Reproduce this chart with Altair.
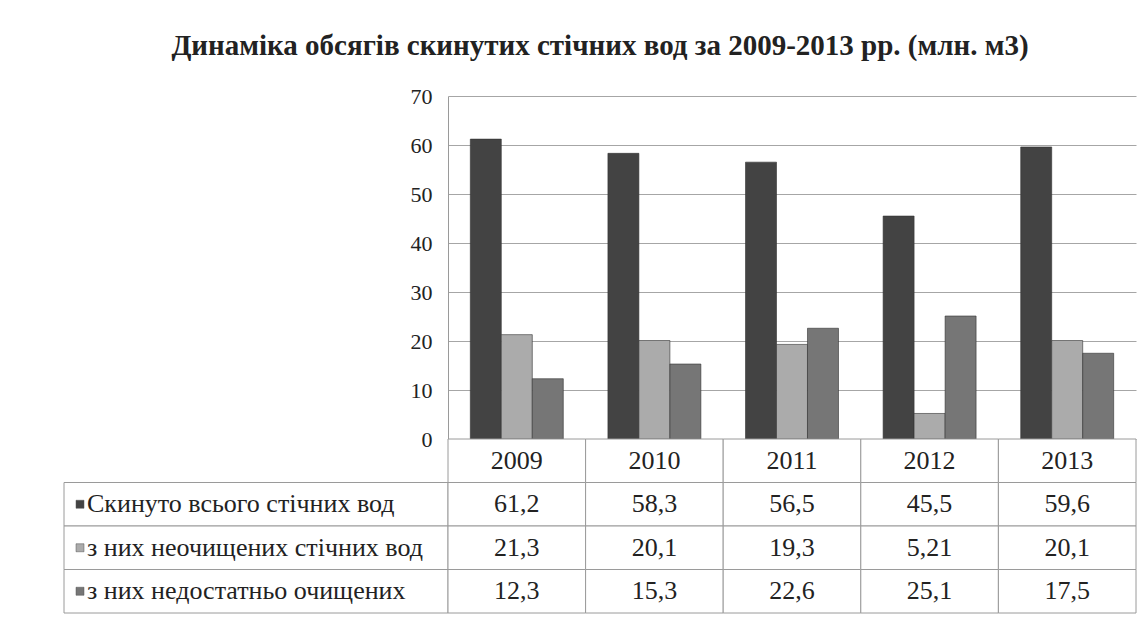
import altair as alt
import pandas as pd

# ---- data ----
years = ["2009", "2010", "2011", "2012", "2013"]
series = [
    "Скинуто всього стічних вод",
    "з них неочищених стічних вод",
    "з них недостатньо очищених",
]
total = [61.2, 58.3, 56.5, 45.5, 59.6]
untreated = [21.3, 20.1, 19.3, 5.21, 20.1]
insufficient = [12.3, 15.3, 22.6, 25.1, 17.5]
y_ticks = [0, 10, 20, 30, 40, 50, 60, 70]
colors = ["#434343", "#ababab", "#767676"]
title_text = "Динаміка обсягів скинутих стічних вод за 2009-2013 рр. (млн. м3)"
header_row = "Рік"

FONT = "Liberation Serif"
GRID = "#a6a6a6"
LINE = "#9a9a9a"
TXT = "#222222"

rows = []
for s, vals in zip(series, [total, untreated, insufficient]):
    for y, v in zip(years, vals):
        rows.append({"year": y, "series": s, "value": v,
                     "label": str(v).replace(".", ",")})
df = pd.DataFrame(rows)

table_rows = [{"year": y, "row": header_row, "label": y} for y in years]
table_rows += [{"year": r["year"], "row": r["series"], "label": r["label"]} for r in rows]
tdf = pd.DataFrame(table_rows)
ldf = pd.DataFrame({"row": series})

row_domain = [header_row] + series
color_scale = alt.Scale(domain=series, range=colors)

PW = 688   # plot / value-table width
LW = 384   # label column width
PH = 343   # bar plot height
TH = 174   # table height

# ---- bar chart ----
bars = alt.Chart(df).mark_bar(stroke="#333333", strokeWidth=0.6).encode(
    x=alt.X("year:N", sort=years, axis=None,
            scale=alt.Scale(paddingInner=0, paddingOuter=0)),
    xOffset=alt.XOffset("series:N", sort=series,
                        scale=alt.Scale(domain=series, paddingOuter=0.72, paddingInner=0)),
    y=alt.Y("value:Q", scale=alt.Scale(domain=[0, 70], nice=False),
            axis=alt.Axis(values=y_ticks, title=None,
                          ticks=False, labelPadding=16, domainColor=LINE,
                          gridColor=GRID, gridWidth=1, labelFont=FONT,
                          labelFontSize=22, labelColor=TXT)),
    color=alt.Color("series:N", scale=color_scale, legend=None),
).properties(width=PW, height=PH)

spacer = alt.Chart(pd.DataFrame({"a": [0]})).mark_point(opacity=0).properties(
    width=LW, height=PH)

# ---- value table ----
tx = alt.X("year:N", sort=years, axis=None,
           scale=alt.Scale(paddingInner=0, paddingOuter=0))
ty = alt.Y("row:N", sort=row_domain, axis=None,
           scale=alt.Scale(domain=row_domain, paddingInner=0, paddingOuter=0))

value_table = alt.layer(
    alt.Chart(tdf).mark_rect(fill="white", stroke=LINE, strokeWidth=1).encode(x=tx, y=ty),
    alt.Chart(tdf).mark_text(font=FONT, fontSize=26, color=TXT).encode(
        x=tx, y=ty, text="label:N"),
).properties(width=PW, height=TH)

# ---- label column ----
ly = alt.Y("row:N", sort=row_domain, axis=None,
           scale=alt.Scale(domain=row_domain, paddingInner=0, paddingOuter=0))
label_table = alt.layer(
    alt.Chart(ldf).mark_rect(fill="white", stroke=LINE, strokeWidth=1).encode(y=ly),
    alt.Chart(ldf).mark_square(size=64, opacity=1, stroke="#555555", strokeWidth=0.5).encode(
        y=ly, x=alt.value(16),
        color=alt.Color("row:N", scale=color_scale, legend=None)),
    alt.Chart(ldf).mark_text(align="left", font=FONT, fontSize=26, color=TXT).encode(
        y=ly, x=alt.value(23), text="row:N"),
).properties(width=LW, height=TH)

chart = alt.concat(
    spacer, bars, label_table, value_table,
    columns=2,
    spacing=0,
    bounds="flush",
).properties(
    title=alt.TitleParams(title_text, font=FONT, fontSize=29, fontWeight="bold",
                          color=TXT, anchor="middle", offset=24),
    padding={"left": 55, "top": 24, "right": 0, "bottom": 0},
).configure(font=FONT).configure_text(font=FONT).configure_view(stroke=None)

chart.save("out.html", embed_options={"renderer": "svg", "actions": False})
